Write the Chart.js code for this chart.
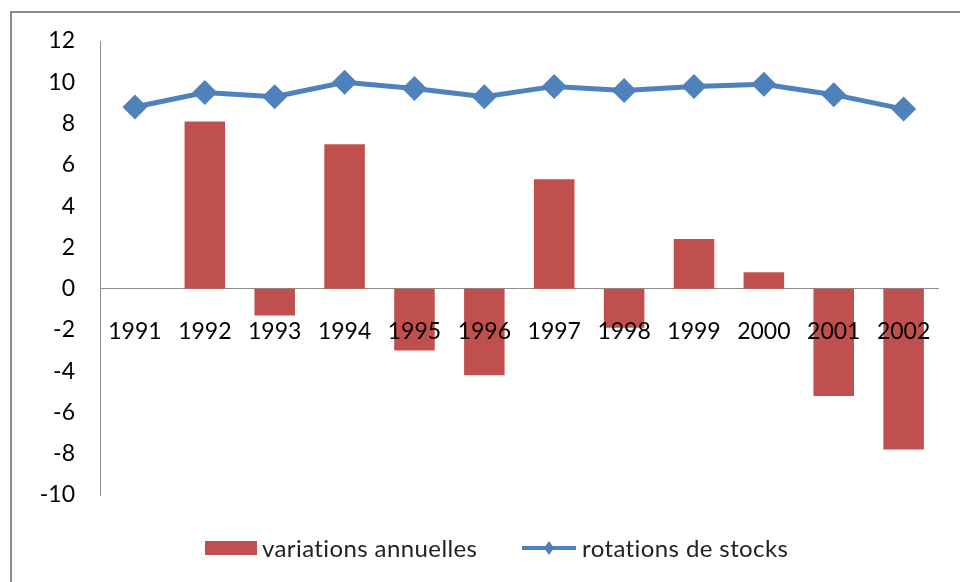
<!DOCTYPE html>
<html>
<head>
<meta charset="utf-8">
<script src="https://cdn.jsdelivr.net/npm/chart.js@4.4.1/dist/chart.umd.min.js"></script>
<style>
    html, body { margin: 0; padding: 0; background: #fff; overflow: hidden; }
    #frame { position: absolute; left: 10px; top: 11px; width: 990px; height: 620px; border: 2px solid #8a8a8a; }
    #wrap { position: absolute; left: 0; top: 0; width: 960px; height: 582px; }
    .legend-item { position: absolute; top: 533px; display: flex; align-items: center; font-family: Lato, sans-serif; font-size: 24px; letter-spacing: 0.4px; color: #222; white-space: nowrap; }
    .legend-item .swatch { margin-right: 5px; }
</style>
</head>
<body>
<div id="frame"></div>
<div id="wrap"><canvas id="chart" width="960" height="582"></canvas></div>
<div id="legend"></div>
<script>
// Data
const annees = ['1991', '1992', '1993', '1994', '1995', '1996', '1997', '1998', '1999', '2000', '2001', '2002'];
const variationsAnnuelles = [0, 8.1, -1.3, 7.0, -3.0, -4.2, 5.3, -1.9, 2.4, 0.8, -5.2, -7.8];
const rotationsStocks = [8.8, 9.5, 9.3, 10.0, 9.7, 9.3, 9.8, 9.6, 9.8, 9.9, 9.4, 8.7];
const yTicks = [-10, -8, -6, -4, -2, 0, 2, 4, 6, 8, 10, 12];

const ROUGE = '#C0504D';
const BLEU = '#4F81BD';
const FONT = { family: 'Lato, sans-serif', size: 23 };

document.addEventListener("DOMContentLoaded", function () {
    const ctx = document.getElementById('chart').getContext('2d');

    const chart = new Chart(ctx, {
        type: 'bar',
        data: {
            labels: annees,
            datasets: [{
                type: 'bar',
                label: 'variations annuelles',
                data: variationsAnnuelles,
                backgroundColor: ROUGE,
                borderWidth: 0,
                categoryPercentage: 1,
                barPercentage: 0.58,
                order: 1
            }, {
                type: 'line',
                label: 'rotations de stocks',
                data: rotationsStocks,
                borderColor: BLEU,
                backgroundColor: BLEU,
                borderWidth: 5,
                pointStyle: 'rectRot',
                pointRadius: 12.5,
                pointBorderWidth: 0,
                tension: 0,
                order: 0
            }]
        },
        options: {
            responsive: false,
            animation: false,
            layout: { padding: { top: 41, left: 10, right: 17, bottom: 87 } },
            plugins: {
                legend: { display: false },
                tooltip: { enabled: false }
            },
            scales: {
                x: {
                    position: { y: 0 },
                    grid: { display: false, drawTicks: false },
                    border: { display: true, color: '#8c8c8c', width: 1 },
                    // year labels sit next to the zero line, drawn over the bars
                    ticks: { font: FONT, color: '#000', padding: 29, maxRotation: 0, autoSkip: false, z: 1 },
                    afterFit: function (scale) { scale.height = 0; }
                },
                y: {
                    min: yTicks[0],
                    max: yTicks[yTicks.length - 1],
                    afterBuildTicks: function (scale) {
                        scale.ticks = yTicks.map(v => ({ value: v }));
                    },
                    grid: { display: false, drawTicks: false },
                    border: { display: true, color: '#8c8c8c', width: 1 },
                    ticks: { font: FONT, color: '#000', padding: 25 },
                    afterFit: function (scale) { scale.width = 90; }
                }
            }
        }
    });

    buildLegend(chart);
});

// HTML legend built from the datasets
function buildLegend(chart) {
    const legend = document.getElementById('legend');
    const lefts = [205, 521];
    chart.data.datasets.forEach((ds, i) => {
        const item = document.createElement('div');
        item.className = 'legend-item';
        item.style.left = lefts[i] + 'px';
        let swatch;
        if (ds.type === 'bar') {
            swatch = document.createElement('span');
            swatch.style.display = 'inline-block';
            swatch.style.width = '52px';
            swatch.style.height = '14px';
            swatch.style.background = ds.backgroundColor;
        } else {
            swatch = document.createElement('canvas');
            swatch.width = 56;
            swatch.height = 16;
            const c = swatch.getContext('2d');
            c.strokeStyle = ds.borderColor;
            c.lineWidth = 4;
            c.beginPath();
            c.moveTo(1, 8);
            c.lineTo(55, 8);
            c.stroke();
            c.fillStyle = ds.borderColor;
            c.beginPath();
            c.moveTo(28, 1);
            c.lineTo(33, 8);
            c.lineTo(28, 15);
            c.lineTo(23, 8);
            c.closePath();
            c.fill();
        }
        swatch.className = 'swatch';
        const text = document.createElement('span');
        text.textContent = ds.label;
        item.appendChild(swatch);
        item.appendChild(text);
        legend.appendChild(item);
    });
}
</script>
</body>
</html>
